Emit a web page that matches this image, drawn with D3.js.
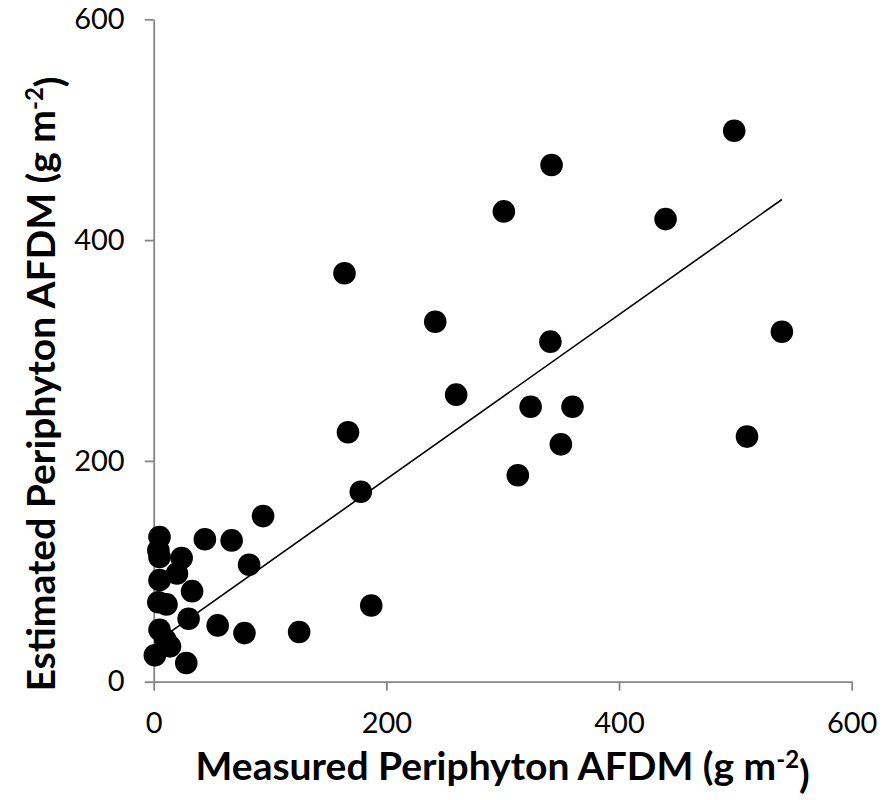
<!DOCTYPE html>
<html>
<head>
<meta charset="utf-8">
<script src="https://cdn.jsdelivr.net/npm/d3@7"></script>
<style>
  body { margin: 0; background: #fff; }
  svg { display: block; }
</style>
</head>
<body>
<div id="chart"></div>
<script>
// values (g m-2)
var measured  = [499, 342, 301, 440, 164, 242, 540, 341, 260, 324, 360, 350, 313, 510, 167, 178,
                 94, 44, 67, 5, 4, 5, 24, 82, 5, 20, 33, 4, 11, 30, 55, 78, 125, 187, 5, 10, 14, 1, 28];
var estimated = [499, 468, 426, 419, 370, 326, 317, 308, 260, 249, 249, 215, 187, 222, 226, 172,
                 150, 129, 128, 131, 119, 113, 112, 106, 92, 98, 82, 72, 70, 57, 51, 44, 45, 69, 47, 38, 32, 24, 17];
var xTicks = [0, 200, 400, 600];
var yTicks = [0, 200, 400, 600];
// linear trendline as drawn
var trendSlope = 0.745;
var trendIntercept = 34.5;

var width = 888, height = 800;
var axisColor = "#868686";

var svg = d3.select("#chart").append("svg")
    .attr("width", width)
    .attr("height", height);

svg.append("rect").attr("width", width).attr("height", height).attr("fill", "#fff");

var x = d3.scaleLinear().domain([0, 600]).range([153.7, 851.7]);
var y = d3.scaleLinear().domain([0, 600]).range([681.7, 19.3]);

// axes
var xAxis = svg.append("g")
    .attr("transform", "translate(0," + y(0) + ")")
    .call(d3.axisBottom(x).tickValues(xTicks).tickSize(9).tickSizeOuter(0).tickPadding(22));

var yAxis = svg.append("g")
    .attr("transform", "translate(" + x(0) + ",0)")
    .call(d3.axisLeft(y).tickValues(yTicks).tickSize(9).tickSizeOuter(0).tickPadding(20));

[xAxis, yAxis].forEach(function(g) {
    g.select(".domain").attr("stroke", axisColor).attr("stroke-width", 1.8);
    g.selectAll(".tick line").attr("stroke", axisColor).attr("stroke-width", 1.8);
    g.selectAll(".tick text")
        .attr("fill", "#000")
        .style("font-family", "Lato, 'Open Sans', sans-serif")
        .style("font-size", "29px");
});

// points
var pts = measured.map(function(m, i) { return { m: m, e: estimated[i] }; });

svg.append("g").selectAll("circle")
    .data(pts)
    .enter().append("circle")
    .attr("cx", function(d) { return x(d.m); })
    .attr("cy", function(d) { return y(d.e); })
    .attr("r", 11.3)
    .attr("fill", "#000");

// trendline over the measured range
var xMin = d3.min(measured), xMax = d3.max(measured);
svg.append("line")
    .attr("x1", x(xMin)).attr("y1", y(trendIntercept + trendSlope * xMin))
    .attr("x2", x(xMax)).attr("y2", y(trendIntercept + trendSlope * xMax))
    .attr("stroke", "#000")
    .attr("stroke-width", 1.6);

// axis titles
function title(sel, label) {
    sel.style("font-family", "Lato, 'Open Sans', sans-serif")
        .style("font-size", "39px")
        .style("font-weight", "bold")
        .attr("text-anchor", "middle")
        .attr("fill", "#000");
    sel.append("tspan").text(label + " (g m");
    sel.append("tspan").attr("dy", "-0.5em").style("font-size", "24px").text("-2");
    sel.append("tspan").attr("dy", "0.5em").text(")");
}

svg.append("text")
    .attr("x", (x(0) + x(600)) / 2)
    .attr("y", 780)
    .call(title, "Measured Periphyton AFDM");

svg.append("text")
    .attr("transform", "translate(55,384) rotate(-90)")
    .call(title, "Estimated Periphyton AFDM");
</script>
</body>
</html>
